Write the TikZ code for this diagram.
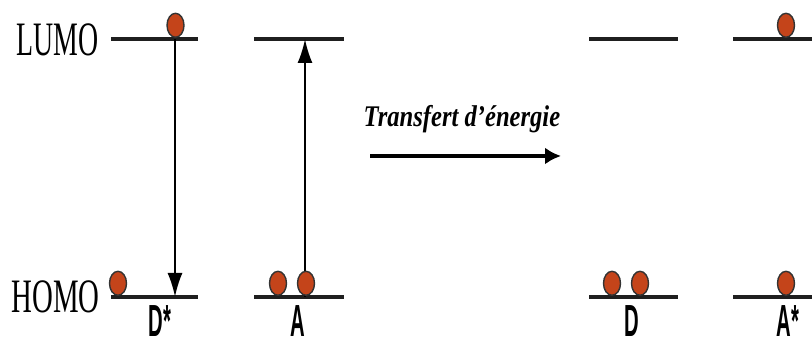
\documentclass[tikz,border=0pt]{standalone}
\usepackage{fontspec}
\setmainfont{Liberation Serif}
\setsansfont{Liberation Sans}
\usetikzlibrary{arrows.meta,shapes.geometric}
\definecolor{elec}{RGB}{196,68,26}
\tikzset{
  level/.style={line width=3.2pt, draw=black!88},
  trans/.style={line width=2pt, -{Latex[length=24pt,width=15pt]}},
  electron/.style={ellipse, minimum width=17pt, minimum height=24pt, inner sep=0pt, fill=elec, draw=black!80, line width=1.4pt, anchor=south},
  orb/.style={font=\fontsize{48}{48}\selectfont, inner sep=0pt, anchor=east},
  mol/.style={font=\sffamily\bfseries\fontsize{45}{45}\selectfont, inner sep=0pt, anchor=north},
}
\begin{document}
\begin{tikzpicture}[x=1pt,y=-1pt]
\useasboundingbox (0,0) rectangle (812,344);
% levels
\coordinate (l1a) at (111,39); \coordinate (l1b) at (198,39);
\coordinate (l2a) at (254,39); \coordinate (l2b) at (344,39);
\coordinate (l3a) at (589,39); \coordinate (l3b) at (678,39);
\coordinate (l4a) at (733,39); \coordinate (l4b) at (812,39);
\coordinate (h1a) at (111,297); \coordinate (h1b) at (198,297);
\coordinate (h2a) at (254,297); \coordinate (h2b) at (344,297);
\coordinate (h3a) at (589,297); \coordinate (h3b) at (678,297);
\coordinate (h4a) at (733,297); \coordinate (h4b) at (812,297);
\foreach \p in {l1,l2,l3,l4,h1,h2,h3,h4} \draw[level] (\p a) -- (\p b);
% vertical transitions
\coordinate (dtop) at (175,39); \coordinate (dbot) at (175,297);
\coordinate (abot) at (305,297); \coordinate (atop) at (305,39);
\draw[trans] (dtop) -- (dbot);
\draw[trans] (abot) -- (atop);
% electrons
\node[electron] (e1) at (175.5,38) {};
\node[electron] (e2) at (118,296) {};
\node[electron] (e3) at (278,296) {};
\node[electron] (e4) at (306,296) {};
\node[electron] (e5) at (612,296) {};
\node[electron] (e6) at (640,296) {};
\node[electron] (e7) at (786,38) {};
\node[electron] (e8) at (786,296) {};
% orbital labels
\node[orb] (lumo) at (99,40) {\scalebox{0.58}[1]{LUMO}};
\node[orb] (homo) at (100,297) {\scalebox{0.6}[1]{HOMO}};
% molecule labels
\node[mol] (ldstar) at (160,305) {\scalebox{0.45}[1]{D*}};
\node[mol] (la) at (298,305) {\scalebox{0.45}[1]{A}};
\node[mol] (ld) at (632,305) {\scalebox{0.45}[1]{D}};
\node[mol] (lastar) at (788,305) {\scalebox{0.45}[1]{A*}};
% energy transfer
\coordinate (ts) at (370,156); \coordinate (te) at (561,156);
\draw[line width=3.4pt, -{Latex[length=16pt,width=17pt]}] (ts) -- (te);
\node[font=\bfseries\itshape\fontsize{30}{30}\selectfont, inner sep=0pt] (tl) at (462,119) {\scalebox{0.82}[1]{Transfert d'énergie}};
\end{tikzpicture}
\end{document}
